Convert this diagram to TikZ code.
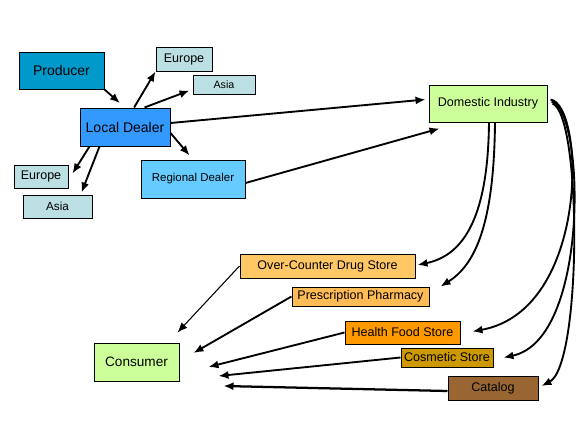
\documentclass[tikz,border=0pt]{standalone}
\usepackage{fontspec}
\setmainfont{Liberation Sans}
\usetikzlibrary{arrows.meta,calc}
\definecolor{prodblue}{HTML}{0099CC}
\definecolor{localblue}{HTML}{3399FF}
\definecolor{regblue}{HTML}{66CCFF}
\definecolor{regiongray}{HTML}{BBDFE2}
\definecolor{paleGreen}{HTML}{CCFF99}
\definecolor{drugorange}{HTML}{FFC766}
\definecolor{pharmorange}{HTML}{FFBB55}
\definecolor{foodorange}{HTML}{FF9900}
\definecolor{cosmgold}{HTML}{CC9900}
\definecolor{catbrown}{HTML}{996633}
\begin{document}
\begin{tikzpicture}[x=0.75pt,y=-0.75pt,
	box/.style={draw,line width=0.75pt,inner sep=0pt,font=\fontsize{9.4}{11}\selectfont},
	big/.style={font=\fontsize{10.5}{12}\selectfont},
	arr/.style={-{Latex[length=7.5pt,width=6pt]},line width=1.4pt}]
		\useasboundingbox (0,0) rectangle (576,425);
		% suppliers
		\node[box,big,fill=prodblue,minimum width=63.75pt,minimum height=27.75pt] (prod) at (61.5,70.5) {Producer};
		\node[box,fill=regiongray,minimum width=42pt,minimum height=18pt] (euT) at (184,59) {Europe};
		\node[box,fill=regiongray,minimum width=46.5pt,minimum height=14.25pt,font=\fontsize{8}{9}\selectfont] (asT) at (224,84.5) {Asia};
		\node[box,big,fill=localblue,minimum width=67.5pt,minimum height=28.5pt] (loc) at (125,127) {Local Dealer};
		\node[box,fill=regiongray,minimum width=40.5pt,minimum height=17.25pt] (euL) at (41,176.5) {Europe};
		\node[box,fill=regiongray,minimum width=51.75pt,minimum height=17.25pt,font=\fontsize{8.8}{10}\selectfont] (asL) at (57.5,206.5) {Asia};
		\node[box,fill=regblue,minimum width=78pt,minimum height=28.5pt,font=\fontsize{8.6}{10}\selectfont] (reg) at (193,179) {Regional Dealer};
		\node[box,fill=paleGreen,minimum width=88.5pt,minimum height=27.75pt] (dom) at (488,103.5) {Domestic Industry};
		% outlets
		\node[box,fill=drugorange,minimum width=131.25pt,minimum height=18pt] (otc) at (327.5,266) {Over-Counter Drug Store};
		\node[box,fill=pharmorange,minimum width=102.75pt,minimum height=14.25pt] (presc) at (360.5,296.5) {Prescription Pharmacy};
		\node[box,fill=foodorange,minimum width=86.25pt,minimum height=17.25pt] (food) at (402.5,332.5) {Health Food Store};
		\node[box,fill=cosmgold,minimum width=69pt,minimum height=14.25pt] (cosm) at (447,357.5) {Cosmetic Store};
		\node[box,fill=catbrown,minimum width=67.5pt,minimum height=18pt] (cat) at (493,388) {Catalog};
		\node[box,fill=paleGreen,minimum width=63.75pt,minimum height=28.5pt,font=\fontsize{10.2}{12}\selectfont] (con) at (136.5,362) {Consumer};
		% dealers
		\draw[arr,shorten >=5pt] (prod.south east) -- (loc.north);
		\draw[arr] (loc.65) -- (euT.south west);
		\draw[arr] (loc.45) -- ($(asT.south west)+(-3,-4)$);
		\draw[arr] ($(loc.east)+(0,-4)$) -- ($(dom.west)+(-3,-4)$);
		\draw[arr,shorten >=4pt] ($(loc.east)+(0,6)$) -- (reg.north);
		\draw[arr] ($(loc.south west)+(10,0)$) -- ($(euL.east)+(4,-3)$);
		\draw[arr] ($(loc.south west)+(20,0)$) -- ($(asL.north)+(24,-2)$);
		\draw[arr] ($(reg.east)+(0,4)$) -- ($(dom.south west)+(11,6)$);
		% industry to outlets
		\draw[arr] ($(dom.south)+(1,0)$) .. controls (488,215) and (465,255) .. ($(otc.east)+(2,-1)$);
		\draw[arr] ($(dom.south)+(7,0)$) .. controls (494,225) and (475,265) .. ($(presc.north east)+(11,0)$);
		\draw[arr] ($(dom.east)+(3,-4)$) .. controls (585,105) and (590,310) .. ($(food.east)+(12,-1)$);
		\draw[arr] ($(dom.east)+(4,-2)$) .. controls (585,110) and (590,340) .. ($(cosm.east)+(10,0)$);
		\draw[arr] ($(dom.east)+(5,0)$) .. controls (582,115) and (582,365) .. ($(cat.east)+(3,-2)$);
		% outlets to consumer
		\draw[arr,line width=0.8pt] (otc.west) -- ($(con.north east)+(-2,-10)$);
		\draw[arr] (presc.west) -- ($(con.east)+(14,-9)$);
		\draw[arr] (food.west) -- ($(con.east)+(29,5)$);
		\draw[arr] (cosm.west) -- ($(con.east)+(39,14)$);
		\draw[arr,line width=1.7pt] ($(cat.west)+(0,3)$) -- ($(con.east)+(44,24)$);
	\end{tikzpicture}
\end{document}
